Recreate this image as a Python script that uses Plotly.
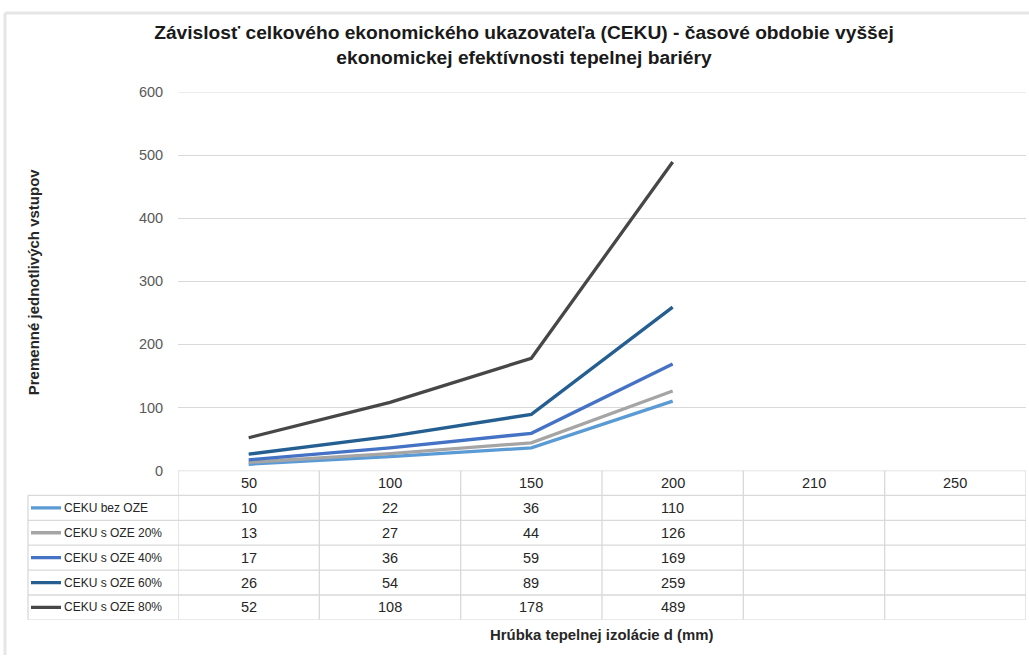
import plotly.graph_objects as go

# Figure size in pixels
W, H = 1029, 663

# ---- data -------------------------------------------------------------
categories = ["50", "100", "150", "200", "210", "250"]
series_names = ["CEKU bez OZE", "CEKU s OZE 20%", "CEKU s OZE 40%",
                "CEKU s OZE 60%", "CEKU s OZE 80%"]
ceku_bez_oze = [10, 22, 36, 110]
ceku_oze_20 = [13, 27, 44, 126]
ceku_oze_40 = [17, 36, 59, 169]
ceku_oze_60 = [26, 54, 89, 259]
ceku_oze_80 = [52, 108, 178, 489]
y_ticks = [0, 100, 200, 300, 400, 500, 600]

series_values = [ceku_bez_oze, ceku_oze_20, ceku_oze_40, ceku_oze_60, ceku_oze_80]
colors = ["#5b9bd5", "#a5a5a5", "#4472c4", "#255e91", "#474747"]

FONT = "Liberation Sans"
GRID = "#d9d9d9"
TEXT = "#262626"


def fx(px):
    return px / W


def fy(px):
    return 1 - px / H


# layout of the plot area and the data table beneath it (pixels)
PLOT_L, PLOT_R = 178, 1026
PLOT_T, PLOT_B = 86, 474
TAB_T, TAB_B = 474, 627
KEY_L = 28

fig = go.Figure()

for name, vals, col in zip(series_names, series_values, colors):
    fig.add_trace(go.Scatter(
        x=categories[:len(vals)], y=vals, name=name, mode="lines",
        line=dict(color=col, width=3.3), hoverinfo="x+y+name",
        xaxis="x", yaxis="y",
    ))

shapes = []
annotations = []

# top gridline at the upper end of the value range
shapes.append(dict(type="line", xref="paper", yref="y", layer="below",
                   x0=fx(PLOT_L), x1=fx(PLOT_R), y0=y_ticks[-1], y1=y_ticks[-1],
                   line=dict(color=GRID, width=1.3)))

# data table: row 0 is the header, rows 1..5 hold series values
n_rows = len(series_names) + 1

# horizontal borders
for r in range(n_rows + 1):
    yb = r - 0.5
    x0 = fx(PLOT_L) if r == 0 else fx(KEY_L)
    shapes.append(dict(type="line", xref="paper", yref="y2",
                       x0=x0, x1=fx(PLOT_R), y0=yb, y1=yb,
                       line=dict(color=GRID, width=1.3)))
# vertical borders between category columns
for i in range(len(categories) + 1):
    xb = i - 0.5
    shapes.append(dict(type="line", xref="x", yref="y2",
                       x0=xb, x1=xb, y0=-0.5, y1=n_rows - 0.5,
                       line=dict(color=GRID, width=1.3)))
# left edge of the series label column
shapes.append(dict(type="line", xref="paper", yref="y2",
                   x0=fx(KEY_L), x1=fx(KEY_L), y0=0.5, y1=n_rows - 0.5,
                   line=dict(color=GRID, width=1.3)))

# header cells (category axis positions are serial numbers)
for i, c in enumerate(categories):
    annotations.append(dict(x=i, y=0, xref="x", yref="y2", text=c,
                            showarrow=False, xanchor="center", yanchor="middle",
                            font=dict(family=FONT, size=14.5, color=TEXT)))

# series rows: legend key, label and values
for r, (name, vals, col) in enumerate(zip(series_names, series_values, colors), start=1):
    shapes.append(dict(type="line", xref="paper", yref="y2",
                       x0=fx(31), x1=fx(61), y0=r, y1=r,
                       line=dict(color=col, width=3.3)))
    annotations.append(dict(x=fx(62), y=r, xref="paper", yref="y2",
                            text=name, showarrow=False,
                            xanchor="left", yanchor="middle",
                            font=dict(family=FONT, size=12, color=TEXT)))
    for i, v in enumerate(vals):
        annotations.append(dict(x=i, y=r, xref="x", yref="y2", text=str(v),
                                showarrow=False, xanchor="center", yanchor="middle",
                                font=dict(family=FONT, size=14.5, color=TEXT)))

# axis titles
annotations.append(dict(x=fx(601), y=fy(642), xref="paper", yref="paper",
                        text="<b>Hrúbka tepelnej izolácie d (mm)</b>",
                        showarrow=False, xanchor="center", yanchor="middle",
                        font=dict(family=FONT, size=14.9, color=TEXT)))
annotations.append(dict(x=fx(33), y=fy(281), xref="paper", yref="paper",
                        text="<b>Premenné jednotlivých vstupov</b>",
                        showarrow=False, textangle=-90,
                        xanchor="center", yanchor="middle",
                        font=dict(family=FONT, size=15, color=TEXT)))

# outer chart frame (top and left edges fall inside the view)
shapes.append(dict(type="line", xref="paper", yref="paper",
                   x0=fx(5), x1=1, y0=fy(5), y1=fy(5),
                   line=dict(color="#e6e6e6", width=3), layer="below"))
shapes.append(dict(type="line", xref="paper", yref="paper",
                   x0=fx(5), x1=fx(5), y0=0, y1=fy(5),
                   line=dict(color="#e6e6e6", width=3), layer="below"))

fig.update_layout(
    width=W, height=H,
    margin=dict(l=0, r=0, t=0, b=0),
    paper_bgcolor="white", plot_bgcolor="white",
    showlegend=False,
    title=dict(
        text="<b>Závislosť celkového ekonomického ukazovateľa (CEKU) - časové obdobie vyššej"
             "<br>ekonomickej efektívnosti tepelnej bariéry</b>",
        x=fx(524), xanchor="center", y=fy(39), yanchor="top",
        font=dict(family=FONT, size=19.2, color="#1a1a1a"),
    ),
    xaxis=dict(
        domain=[fx(PLOT_L), fx(PLOT_R)], type="category",
        categoryorder="array", categoryarray=categories,
        range=[-0.5, len(categories) - 0.5],
        showticklabels=False, showgrid=False, zeroline=False, showline=False,
        fixedrange=True,
    ),
    yaxis=dict(
        domain=[fy(PLOT_B), fy(PLOT_T)], range=[0, 600],
        tickvals=y_ticks, showgrid=True, gridcolor=GRID, gridwidth=1.3,
        zeroline=False, showline=False,
        ticks="outside", ticklen=11, tickcolor="rgba(0,0,0,0)",
        tickfont=dict(family=FONT, size=14.5, color="#595959"),
        fixedrange=True,
    ),
    yaxis2=dict(
        domain=[fy(TAB_B), fy(TAB_T)], range=[n_rows - 0.5, -0.5],
        anchor="x", visible=False, fixedrange=True,
    ),
    shapes=shapes,
    annotations=annotations,
)

fig.write_html("out.html", post_script="document.body.style.margin='0';")
